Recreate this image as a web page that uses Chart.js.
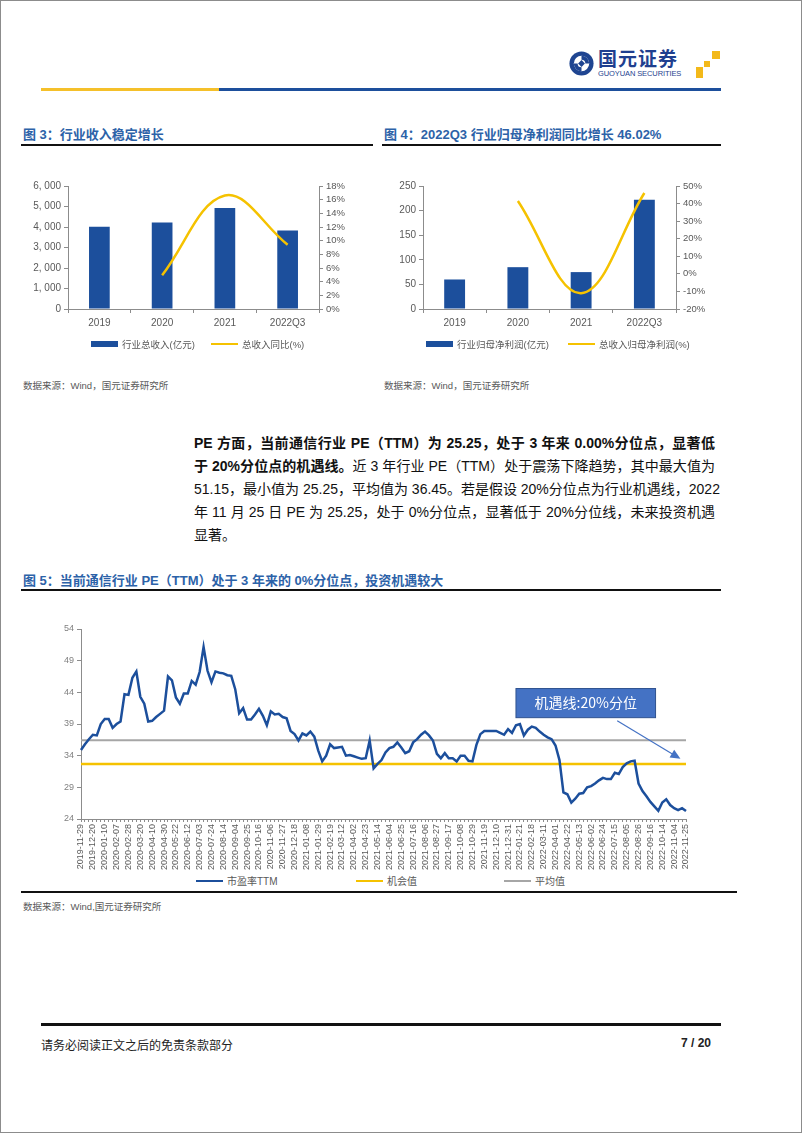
<!DOCTYPE html>
<html>
<head>
<meta charset="utf-8">
<script src="https://cdn.jsdelivr.net/npm/chart.js"></script>
<style>
  body { margin: 0; background: #fff; font-family: 'Liberation Sans', 'Noto Sans CJK SC', sans-serif; }
  #page { position: relative; width: 800px; height: 1131px; border: 1px solid #8c8c8c; overflow: hidden; }
  .abs { position: absolute; }
  .title { position: absolute; font-size: 13px; font-weight: bold; color: #2c62a8; white-space: nowrap; }
  .rule { position: absolute; background: #111; }
  .src { position: absolute; font-size: 9.5px; color: #595959; white-space: nowrap; }
  .para { position: absolute; left: 193px; width: 521px; font-size: 14px; line-height: 23px; color: #111; }
  .para div { text-align: justify; text-align-last: justify; white-space: nowrap; height: 23px; }
  .para div.last { text-align-last: left; }
  .lg { position: absolute; font-size: 10px; color: #595959; white-space: nowrap; line-height: 12px; }
  .lg i { display: inline-block; width: 27px; height: 0; vertical-align: middle; margin-right: 4px; margin-top: -2px; }
  .lg.s { font-size: 9.5px; }
  .lg i.box { height: 6px; margin-top: -3px; }
</style>
</head>
<body>
<div id="page">

  <!-- logo -->
  <svg class="abs" style="left:567px;top:49px" width="27" height="27" viewBox="0 0 28 28">
    <circle cx="14" cy="14" r="12.5" fill="#1f4591"/>
    <circle cx="14" cy="14" r="8" fill="#fff"/>
    <path d="M14 6 A8 8 0 0 1 22 14 L18 14 A4 4 0 0 0 14 10 Z" fill="#1f4591"/>
    <path d="M14 22 A8 8 0 0 1 6 14 L10 14 A4 4 0 0 0 14 18 Z" fill="#1f4591"/>
    <rect x="11.5" y="11.5" width="5" height="5" fill="#1f4591" transform="rotate(45 14 14)"/>
  </svg>
  <div class="abs" style="left:597px;top:47px;font-size:19px;line-height:20px;font-weight:bold;color:#1f3f8f;letter-spacing:1px;font-family:'Noto Sans CJK SC',sans-serif">国元证券</div>
  <div class="abs" style="left:597px;top:69px;font-size:7.5px;line-height:8px;color:#1f3f8f;letter-spacing:-0.1px">GUOYUAN SECURITIES</div>
  <div class="abs" style="left:711px;top:50px;width:8px;height:8px;background:#f3b91a"></div>
  <div class="abs" style="left:703px;top:60px;width:6px;height:6px;background:#f3b91a"></div>
  <div class="abs" style="left:695px;top:66px;width:7px;height:11px;background:#f3b91a"></div>

  <!-- header bar -->
  <div class="abs" style="left:40px;top:87px;width:178px;height:3px;background:#f5c02a"></div>
  <div class="abs" style="left:218px;top:87px;width:502px;height:3px;background:#1d4f9c"></div>

  <div class="title" style="left:22px;top:123px">图 3：行业收入稳定增长</div>
  <div class="title" style="left:383px;top:123px">图 4：2022Q3 行业归母净利润同比增长 46.02%</div>
  <div class="rule" style="left:20px;top:143px;width:352px;height:1.5px"></div>
  <div class="rule" style="left:381px;top:143px;width:339px;height:1.5px"></div>

  <div class="abs" style="left:20px;top:170px"><canvas id="c1" width="360" height="200"></canvas></div>
  <div class="abs" style="left:380px;top:170px"><canvas id="c2" width="330" height="200"></canvas></div>

  <div class="lg s" style="left:90px;top:338px"><i class="box" style="background:#1c4f9c"></i>行业总收入(亿元)</div>
  <div class="lg s" style="left:210px;top:338px"><i style="border-top:2.5px solid #f5c200"></i>总收入同比(%)</div>
  <div class="lg s" style="left:425px;top:338px"><i class="box" style="background:#1c4f9c"></i>行业归母净利润(亿元)</div>
  <div class="lg s" style="left:567px;top:338px"><i style="border-top:2.5px solid #f5c200"></i>总收入归母净利润(%)</div>

  <div class="src" style="left:22px;top:377px">数据来源：Wind，国元证券研究所</div>
  <div class="src" style="left:383px;top:377px">数据来源：Wind，国元证券研究所</div>

  <div class="para" style="top:431px">
    <div><b>PE 方面，当前通信行业 PE（TTM）为 25.25，处于 3 年来 0.00%分位点，显著低</b></div>
    <div><b>于 20%分位点的机遇线。</b>近 3 年行业 PE（TTM）处于震荡下降趋势，其中最大值为</div>
    <div>51.15，最小值为 25.25，平均值为 36.45。若是假设 20%分位点为行业机遇线，2022</div>
    <div>年 11 月 25 日 PE 为 25.25，处于 0%分位点，显著低于 20%分位线，未来投资机遇</div>
    <div class="last">显著。</div>
  </div>

  <div class="title" style="left:22px;top:569px">图 5：当前通信行业 PE（TTM）处于 3 年来的 0%分位点，投资机遇较大</div>
  <div class="rule" style="left:20px;top:588px;width:700px;height:1.5px"></div>

  <div class="abs" style="left:20px;top:600px"><canvas id="c3" width="716" height="274"></canvas></div>
  <div class="lg" style="left:195px;top:875px"><i style="border-top:2.5px solid #1c4f9c"></i>市盈率TTM</div>
  <div class="lg" style="left:355px;top:875px"><i style="border-top:2.5px solid #f5c200"></i>机会值</div>
  <div class="lg" style="left:503px;top:875px"><i style="border-top:2px solid #a6a6a6"></i>平均值</div>
  <div class="rule" style="left:20px;top:890px;width:716px;height:2px"></div>
  <div class="src" style="left:22px;top:898px">数据来源：Wind,国元证券研究所</div>

  <!-- footer -->
  <div class="rule" style="left:40px;top:1022px;width:680px;height:2.5px"></div>
  <div class="abs" style="left:40px;top:1035px;font-size:12px;color:#222">请务必阅读正文之后的免责条款部分</div>
  <div class="abs" style="left:680px;top:1035px;font-size:12px;font-weight:bold;color:#222">7 / 20</div>
</div>

<script>
// figure 3 / 4 data
const years = ['2019', '2020', '2021', '2022Q3'];
const revenue = [4010, 4220, 4930, 3830];          // 行业总收入(亿元)
const revenueYoY = [null, 4.95, 16.6, 9.4];         // 总收入同比(%)
const netProfit = [60, 85, 75, 222];                // 行业归母净利润(亿元)
const netProfitYoY = [null, 41.5, -11, 46.02];      // 同比(%)

// figure 5 data: weekly PE(TTM), one tick label every 3 weeks
const peTickLabels = [
  '2019-11-29', '2019-12-20', '2020-01-10', '2020-02-07', '2020-02-28', '2020-03-20', '2020-04-10',
  '2020-04-30', '2020-05-22', '2020-06-12', '2020-07-03', '2020-07-24', '2020-08-14', '2020-09-04',
  '2020-09-25', '2020-10-16', '2020-11-06', '2020-11-27', '2020-12-18', '2021-01-08', '2021-01-29',
  '2021-02-19', '2021-03-12', '2021-04-02', '2021-04-23', '2021-05-14', '2021-06-04', '2021-06-25',
  '2021-07-16', '2021-08-06', '2021-08-27', '2021-09-17', '2021-10-08', '2021-10-29', '2021-11-19',
  '2021-12-10', '2021-12-31', '2022-01-21', '2022-02-18', '2022-03-11', '2022-04-01', '2022-04-22',
  '2022-05-13', '2022-06-02', '2022-06-24', '2022-07-15', '2022-08-05', '2022-08-26', '2022-09-16',
  '2022-10-14', '2022-11-04', '2022-11-25'
];
const peTTM = [
  34.9, 35.8, 36.6, 37.3, 37.2, 39.0, 39.8, 39.8, 38.4, 39.0,
  39.4, 43.7, 43.6, 46.3, 47.3, 43.3, 42.2, 39.4, 39.5, 40.1,
  40.6, 41.1, 46.5, 45.9, 43.2, 42.2, 43.8, 43.8, 45.8, 45.2,
  47.2, 51.15, 47.4, 45.6, 47.3, 47.1, 47.0, 46.7, 46.6, 44.5,
  40.7, 41.5, 39.7, 39.7, 40.5, 41.4, 40.3, 38.8, 41.0, 40.5,
  40.6, 40.1, 39.9, 37.9, 37.4, 36.4, 37.5, 37.2, 37.8, 37.0,
  34.8, 33.1, 34.0, 35.8, 35.2, 35.3, 35.4, 34.0, 34.1, 33.9,
  33.7, 33.5, 33.6, 36.4, 32.0, 32.7, 33.3, 34.5, 35.2, 35.4,
  36.1, 35.3, 34.4, 34.7, 36.1, 36.6, 37.3, 37.8, 37.2, 36.4,
  34.3, 33.6, 34.4, 33.6, 33.6, 33.1, 34.0, 34.0, 33.2, 33.1,
  35.7, 37.4, 37.9, 37.9, 37.9, 37.9, 37.6, 37.3, 38.2, 37.6,
  38.8, 39.0, 37.2, 38.1, 38.6, 38.4, 37.8, 37.3, 36.9, 36.6,
  35.6, 33.3, 28.2, 27.9, 26.6, 27.2, 28.0, 28.1, 29.0, 29.2,
  29.6, 30.1, 30.5, 30.3, 30.3, 31.3, 31.1, 32.2, 32.8, 33.1,
  33.2, 29.6, 28.4, 27.6, 26.7, 26.0, 25.3, 26.6, 27.1, 26.2,
  25.7, 25.4, 25.7, 25.25
];
const opportunityPE = 32.7;   // 机会值 (20% 分位)
const averagePE = 36.45;      // 平均值

const BLUE = '#1c4f9c';
const YELLOW = '#f5c200';
const GRAY_TXT = '#595959';
const AXIS = '#8c8c8c';

Chart.defaults.font.family = "'Liberation Sans', 'Noto Sans CJK SC', sans-serif";
Chart.defaults.color = GRAY_TXT;
Chart.defaults.animation = false;

function fixedWidth(w) { return (scale) => { scale.width = w; }; }
function fixedHeight(h) { return (scale) => { scale.height = h; }; }

// bar + smoothed yoy line, legends are html below the canvas
function comboChart(id, barLabel, bars, lineLabel, line, yLeft, yRight, leftW, rightW) {
  return new Chart(document.getElementById(id), {
    type: 'bar',
    data: {
      labels: years,
      datasets: [
        { label: barLabel, data: bars, backgroundColor: BLUE, borderWidth: 0,
          barPercentage: 0.33, categoryPercentage: 1, yAxisID: 'y', order: 2 },
        { type: 'line', label: lineLabel, data: line, borderColor: YELLOW, backgroundColor: YELLOW,
          borderWidth: 2.5, pointRadius: 0, tension: 0.38, yAxisID: 'y1', order: 1 }
      ]
    },
    options: {
      responsive: false,
      layout: { padding: { top: 15, bottom: 40 } },
      plugins: {
        tooltip: { enabled: false },
        legend: { display: false }
      },
      scales: {
        x: {
          offset: true,
          grid: { drawOnChartArea: false, offset: true, tickLength: 4, color: AXIS },
          border: { color: AXIS },
          ticks: { font: { size: 10 }, color: GRAY_TXT, padding: 4 },
          afterFit: fixedHeight(22)
        },
        y: Object.assign({
          position: 'left',
          grid: { drawOnChartArea: false, tickLength: 4, color: AXIS },
          border: { color: AXIS },
          afterFit: fixedWidth(leftW)
        }, yLeft),
        y1: Object.assign({
          position: 'right',
          grid: { drawOnChartArea: false, tickLength: 4, color: AXIS },
          border: { color: AXIS },
          afterFit: fixedWidth(rightW)
        }, yRight)
      }
    }
  });
}

comboChart('c1', '行业总收入(亿元)', revenue, '总收入同比(%)', revenueYoY,
  { min: 0, max: 6000, ticks: { stepSize: 1000, autoSkip: false, font: { size: 10 }, color: GRAY_TXT,
      callback: (v) => v.toLocaleString('en-US').replace(',', ', ') } },
  { min: 0, max: 18, ticks: { stepSize: 2, autoSkip: false, font: { size: 9.5 }, color: GRAY_TXT,
      callback: (v) => v + '%' } },
  47, 62);

comboChart('c2', '行业归母净利润(亿元)', netProfit, '总收入归母净利润(%)', netProfitYoY,
  { min: 0, max: 250, ticks: { stepSize: 50, autoSkip: false, font: { size: 10 }, color: GRAY_TXT } },
  { min: -20, max: 50, ticks: { stepSize: 10, autoSkip: false, font: { size: 9.5 }, color: GRAY_TXT,
      callback: (v) => v + '%' } },
  42, 35);

// figure 5
const peLabels = [];
peTickLabels.forEach((d, k) => {
  peLabels.push(d);
  if (k < peTickLabels.length - 1) peLabels.push('', '');
});

// callout box + arrow, positioned in data coordinates
const callout = {
  id: 'callout',
  afterDatasetsDraw(chart) {
    const { ctx, scales: { x, y } } = chart;
    const l = x.getPixelForValue(110), r = x.getPixelForValue(145.3);
    const t = y.getPixelForValue(44.6), b = y.getPixelForValue(40.0);
    ctx.save();
    ctx.fillStyle = '#4472c4';
    ctx.strokeStyle = '#2f528f';
    ctx.lineWidth = 1;
    ctx.fillRect(l, t, r - l, b - t);
    ctx.strokeRect(l, t, r - l, b - t);
    ctx.fillStyle = '#fff';
    ctx.font = "14px 'Noto Sans CJK SC', sans-serif";
    ctx.textAlign = 'center';
    ctx.textBaseline = 'middle';
    ctx.fillText('机遇线:20%分位', (l + r) / 2, (t + b) / 2);

    const x0 = x.getPixelForValue(135.6), y0 = y.getPixelForValue(39.5);
    const x1 = x.getPixelForValue(151.6), y1 = y.getPixelForValue(33.5);
    const ang = Math.atan2(y1 - y0, x1 - x0);
    ctx.strokeStyle = '#4472c4';
    ctx.fillStyle = '#4472c4';
    ctx.lineWidth = 1.2;
    ctx.beginPath();
    ctx.moveTo(x0, y0);
    ctx.lineTo(x1 - 8 * Math.cos(ang), y1 - 8 * Math.sin(ang));
    ctx.stroke();
    ctx.beginPath();
    ctx.moveTo(x1, y1);
    ctx.lineTo(x1 - 10 * Math.cos(ang) + 4.5 * Math.sin(ang), y1 - 10 * Math.sin(ang) - 4.5 * Math.cos(ang));
    ctx.lineTo(x1 - 10 * Math.cos(ang) - 4.5 * Math.sin(ang), y1 - 10 * Math.sin(ang) + 4.5 * Math.cos(ang));
    ctx.closePath();
    ctx.fill();
    ctx.restore();
  }
};

new Chart(document.getElementById('c3'), {
  type: 'line',
  data: {
    labels: peLabels,
    datasets: [
      { label: '市盈率TTM', data: peTTM, borderColor: BLUE, backgroundColor: BLUE,
        borderWidth: 2.5, pointRadius: 0, tension: 0 },
      { label: '机会值', data: peTTM.map(() => opportunityPE), borderColor: YELLOW, backgroundColor: YELLOW,
        borderWidth: 2.5, pointRadius: 0 },
      { label: '平均值', data: peTTM.map(() => averagePE), borderColor: '#a6a6a6', backgroundColor: '#a6a6a6',
        borderWidth: 2, pointRadius: 0 }
    ]
  },
  options: {
    responsive: false,
    layout: { padding: { top: 28, right: 51 } },
    plugins: {
      tooltip: { enabled: false },
      legend: { display: false }   // legend drawn as html below the canvas
    },
    scales: {
      x: {
        grid: { drawOnChartArea: false, tickLength: 3, color: AXIS },
        border: { color: AXIS },
        ticks: { autoSkip: false, minRotation: 90, maxRotation: 90, font: { size: 9 }, color: GRAY_TXT, padding: 2 },
        afterFit: fixedHeight(56)
      },
      y: {
        min: 24, max: 54,
        grid: { drawOnChartArea: false, tickLength: 4, color: AXIS },
        border: { color: AXIS },
        ticks: { stepSize: 5, autoSkip: false, font: { size: 9 }, color: '#7f7f7f' },
        afterFit: fixedWidth(60)
      }
    }
  },
  plugins: [callout]
});
</script>
</body>
</html>
